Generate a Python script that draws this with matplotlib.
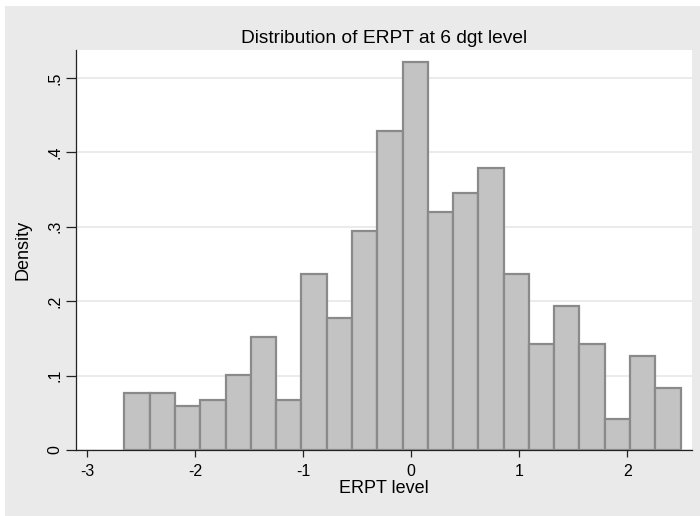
#!/usr/bin/env python3
# -*- coding: utf-8 -*-
"""
Histogram of ERPT at 6 dgt level (Stata-like style)
"""

import matplotlib
matplotlib.use('Agg')
import matplotlib.pyplot as plt
from matplotlib.patches import Rectangle

matplotlib.rcParams['font.family'] = ['Liberation Sans', 'DejaVu Sans']

# data
bin_start = -2.656
bin_width = 0.2341
density = [0.076, 0.076, 0.059, 0.067, 0.101, 0.152, 0.067, 0.236, 0.177, 0.295,
           0.429, 0.522, 0.320, 0.345, 0.379, 0.236, 0.143, 0.194, 0.143, 0.042,
           0.126, 0.084]
x_ticks = [-3, -2, -1, 0, 1, 2]
y_ticks = [0, 0.1, 0.2, 0.3, 0.4, 0.5]
y_tick_labels = ['0', '.1', '.2', '.3', '.4', '.5']

BG = '#eaeaea'
FILL = '#c3c3c3'
EDGE = '#8a8a8a'

fig = plt.figure(figsize=(7.0, 5.16), dpi=100, facecolor='white')

# gray graph region (white strip at top and left like the original)
fig.patches.append(Rectangle((5 / 700, -0.01), 1.01, 1.01 - 6 / 516,
                             transform=fig.transFigure,
                             facecolor=BG, edgecolor='none', zorder=-10))

ax = fig.add_axes([76 / 700, 1 - 450 / 516, (692 - 76) / 700, (450 - 50) / 516])
ax.set_zorder(1)
ax.set_facecolor('white')

edges = [bin_start + i * bin_width for i in range(len(density))]
ax.bar(edges, density, width=bin_width, align='edge', color=FILL,
       edgecolor=EDGE, linewidth=1.6, zorder=3)

ax.set_xlim(-3.105, 2.6)
ax.set_ylim(0, 0.5376)

ax.set_xticks(x_ticks)
ax.set_xticklabels([str(t) for t in x_ticks])
ax.set_yticks(y_ticks)
ax.set_yticklabels(y_tick_labels, rotation=90, va='center')

ax.grid(axis='y', color='#e8e8e8', linewidth=1.2, zorder=0)
ax.set_axisbelow(True)

for side in ['top', 'right']:
    ax.spines[side].set_visible(False)
for side in ['left', 'bottom']:
    ax.spines[side].set_color('#222222')
    ax.spines[side].set_linewidth(0.9)

ax.tick_params(axis='x', direction='out', length=5, width=0.9, color='#222222',
               labelsize=11.5, pad=5)
ax.tick_params(axis='y', direction='out', length=7, width=0.9, color='#222222',
               labelsize=11.5, pad=3)

ax.set_title('Distribution of ERPT at 6 dgt level', fontsize=13.8, pad=5)
ax.set_xlabel('ERPT level', fontsize=13, labelpad=1)
ax.set_ylabel('Density', fontsize=13, labelpad=11)

plt.savefig('out.png', dpi=100, facecolor=fig.get_facecolor())
plt.close()
